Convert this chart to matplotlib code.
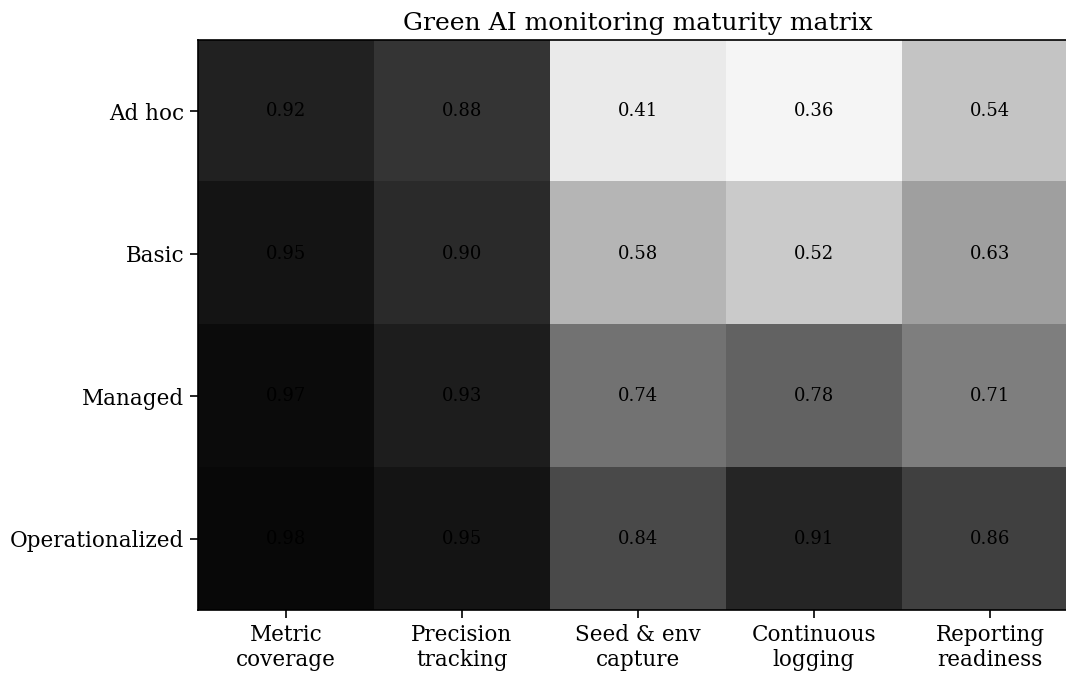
import numpy as np
import matplotlib
matplotlib.use("Agg")
import matplotlib.pyplot as plt

plt.rcParams["font.family"] = "DejaVu Serif"

# Maturity levels (rows) and monitoring capabilities (columns)
levels = ["Ad hoc", "Basic", "Managed", "Operationalized"]
capabilities = ["Metric\ncoverage", "Precision\ntracking", "Seed & env\ncapture",
                "Continuous\nlogging", "Reporting\nreadiness"]

ad_hoc = [0.92, 0.88, 0.41, 0.36, 0.54]
basic = [0.95, 0.90, 0.58, 0.52, 0.63]
managed = [0.97, 0.93, 0.74, 0.78, 0.71]
operationalized = [0.98, 0.95, 0.84, 0.91, 0.86]

scores = np.array([ad_hoc, basic, managed, operationalized])

fig = plt.figure(figsize=(10.66, 6.77), dpi=100)
ax = fig.add_axes([198 / 1066, 1 - 610 / 677, 880 / 1066, 570 / 677])

ax.imshow(scores, cmap="Greys", vmin=0.3, vmax=1.0, aspect="auto")

# value labels in every cell
for i in range(scores.shape[0]):
    for j in range(scores.shape[1]):
        ax.text(j, i, f"{scores[i, j]:.2f}", ha="center", va="center",
                color="black", fontsize=13)

ax.set_xticks(range(len(capabilities)))
ax.set_xticklabels(capabilities, fontsize=15.5)
ax.set_yticks(range(len(levels)))
ax.set_yticklabels(levels, fontsize=15.5)
ax.tick_params(length=6, width=1.2, pad=4)
for sp in ax.spines.values():
    sp.set_linewidth(1.2)
ax.set_title("Green AI monitoring maturity matrix", fontsize=18, pad=7)

fig.savefig("out.png", dpi=100)
